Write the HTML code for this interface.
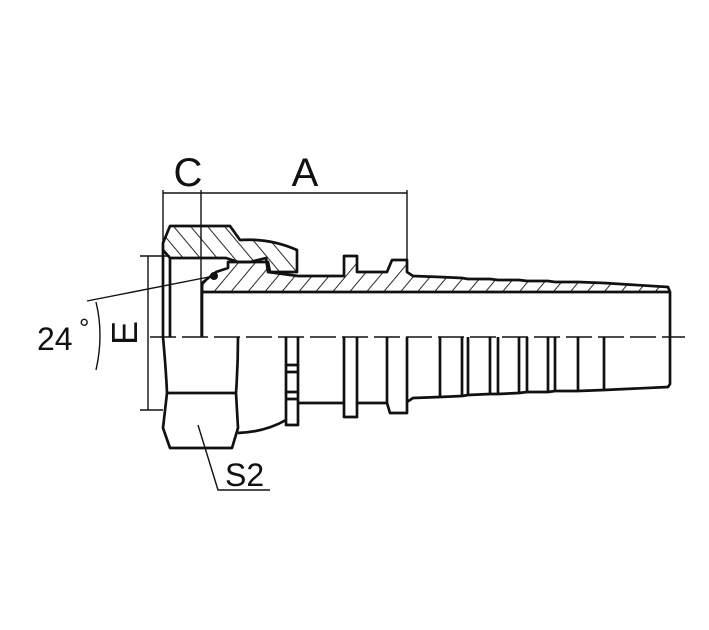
<!DOCTYPE html>
<html><head><meta charset="utf-8"><style>
html,body{margin:0;padding:0;background:#fff;}
svg{display:block;}
text{font-family:"Liberation Sans",sans-serif;fill:#111;}
</style></head><body>
<svg width="709" height="630" viewBox="0 0 709 630" xmlns="http://www.w3.org/2000/svg">
<defs>
<pattern id="h" width="13" height="13" patternUnits="userSpaceOnUse" patternTransform="rotate(40)">
<line x1="0" y1="0" x2="0" y2="13" stroke="#111" stroke-width="1.8"/>
</pattern>
<pattern id="h2" width="13" height="13" patternUnits="userSpaceOnUse" patternTransform="rotate(-40)">
<line x1="0" y1="0" x2="0" y2="13" stroke="#111" stroke-width="1.8"/>
</pattern>
</defs>
<rect width="709" height="630" fill="#fff"/>
<g fill="none" stroke="#111" stroke-width="2.7" stroke-linejoin="round">
<path d="M163,243 L170,226 L230,226 L240,240 Q270,238 297,250 L297,272 L270,272 L268,262 L238,262 L226,258 L170,258 L163,250 Z" fill="url(#h2)"/>
<path d="M202,283 L216,272 L228,268 L228,262 L250,262 L266,258 L268,272 L298,276 L344,276 L344,256 L357,256 L357,272 L387,272 L392,260 L407,260 L407,272 L413,276 L440,277 L462,278 L468,279 L490,279 L498,280 L519,280 L527,281 L548,281 L555,282 L578,282 L604,283 L668,287 L670,292 L202,292 Z" fill="url(#h)"/>
<path d="M163,250 L163,337"/>
<path d="M170,258 L170,337"/>
<path d="M202,283 L202,337"/>
<path d="M163,337 Q166,370 167,393 L163,428 L170,448 L232,448 L238,428 L236,393 Q238,365 238,337"/>
<path d="M167,393 L236,393"/>
<path d="M238,433 Q265,432 286,420"/>
<path d="M286,337 L286,425 L298,425 L298,337"/>
<path d="M286,365 L298,365 M286,372 L298,372 M286,392 L298,392 M286,399 L298,399"/>
<path d="M298,403 L344,403 L344,417 L357,417 L357,403 L387,403 L390,413 L407,413 L407,402 L413,398 L440,397 L462,396 L468,395 L490,394 L498,394 L519,393 L527,392 L548,392 L555,391 L578,391 L604,390 L668,387 L670,384 L670,292"/>
<path d="M344,337 L344,403 M357,337 L357,403 M387,337 L387,403 M407,337 L407,402"/>
<path d="M440,337 L440,397 M462,337 L462,396 M468,337 L468,395 M490,337 L490,394 M498,337 L498,394 M519,337 L519,393 M527,337 L527,392 M548,337 L548,392 M555,337 L555,391 M578,337 L578,391 M604,337 L604,390"/>
</g>
<circle cx="214" cy="276" r="4" fill="#111"/>
<g fill="none" stroke="#111" stroke-width="1.4">
<path d="M150,337 L685,337" stroke-dasharray="26,6"/>
<path d="M163,190 L163,243 M201,190 L201,337 M407,190 L407,260"/>
<path d="M163,193 L407,193"/>
<path d="M140,256 L170,256 M148,256 L148,410 M140,410 L163,410"/>
<path d="M87,301 L214,276"/>
<path d="M96,302 Q104,335 96,370"/>
<path d="M198,425 L218,490 L270,490"/>
</g>
<text x="37" y="350" font-size="32">24</text>
<text x="79" y="337" font-size="26">°</text>
<text x="188" y="186" font-size="40" text-anchor="middle">C</text>
<text x="305" y="186" font-size="40" text-anchor="middle">A</text>
<text x="0" y="0" font-size="36" transform="translate(137,345) rotate(-90)">E</text>
<text x="225" y="486" font-size="32">S2</text>
</svg>
</body></html>
